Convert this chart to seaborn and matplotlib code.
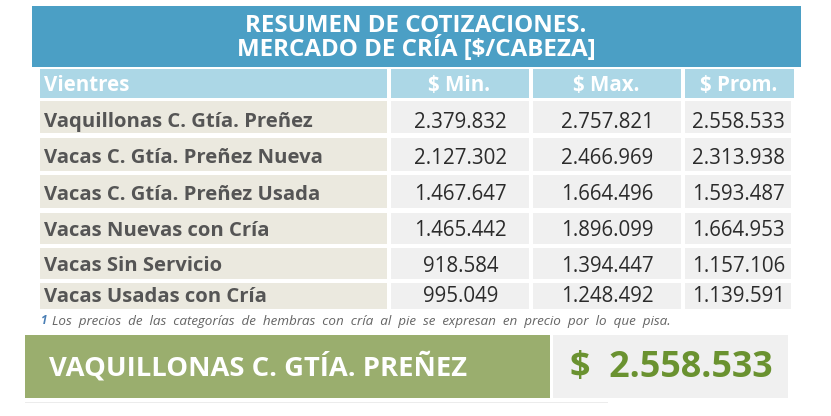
import matplotlib
matplotlib.use("Agg")
import matplotlib.pyplot as plt
import matplotlib.font_manager as fm
from matplotlib.patches import Rectangle
import seaborn as sns

titulo = ["RESUMEN DE COTIZACIONES.", "MERCADO DE CRÍA [$/CABEZA]"]
columnas = ["Vientres", "$ Min.", "$ Max.", "$ Prom."]
categorias = ["Vaquillonas C. Gtía. Preñez", "Vacas C. Gtía. Preñez Nueva",
              "Vacas C. Gtía. Preñez Usada", "Vacas Nuevas con Cría",
              "Vacas Sin Servicio", "Vacas Usadas con Cría"]
minimos = ["2.379.832", "2.127.302", "1.467.647", "1.465.442", "918.584", "995.049"]
maximos = ["2.757.821", "2.466.969", "1.664.496", "1.896.099", "1.394.447", "1.248.492"]
promedios = ["2.558.533", "2.313.938", "1.593.487", "1.664.953", "1.157.106", "1.139.591"]
nota_num = "1"
nota = "Los precios de las categorías de hembras con cría al pie se expresan en precio por lo que pisa."
destacado = "VAQUILLONAS C. GTÍA. PREÑEZ"
destacado_valor = "$  2.558.533"

sns.set_theme(style="white")
plt.rcParams['font.family'] = ['Open Sans', 'DejaVu Sans']

def font(fname, size):
    for f in fm.fontManager.ttflist:
        if f.fname.endswith("/" + fname):
            return fm.FontProperties(fname=f.fname, size=size)
    return fm.FontProperties(family="Open Sans", size=size)

fig = plt.figure(figsize=(8.31, 4.16), dpi=100)
ax = fig.add_axes([0, 0, 1, 1])
ax.set_xlim(0, 831)
ax.set_ylim(416, 0)
ax.axis("off")

def box(x0, x1, y0, y1, c):
    ax.add_patch(Rectangle((x0, y0), x1 - x0, y1 - y0, facecolor=c, edgecolor="none", zorder=1))

def label(x, y, s, c, fp, ha="left"):
    ax.text(x, y, s, ha=ha, va="baseline", color=c, fontproperties=fp, zorder=3)

BOLD, REG, ITAL = "OpenSans-Bold.ttf", "OpenSans-Regular.ttf", "OpenSans-Italic.ttf"
BLUE, LBLUE, BEIGE, GRAY, GREEN = "#4b9fc5", "#acd7e6", "#ebe9df", "#f0f0f0", "#9aae6e"
DARK, NUM = "#555555", "#2b2b2b"

box(32, 801, 6, 67, BLUE)
label(416, 32, titulo[0], "white", font(BOLD, 17.4), "center")
label(416, 56, titulo[1], "white", font(BOLD, 17.4), "center")

head_x = [(40, 387), (391, 529), (533, 681), (685, 794)]
cell_x = [(40, 387), (391, 529), (533, 681), (685, 791)]
row_y = [(101, 133), (138, 171), (175, 208), (213, 244), (248, 279), (283, 309)]
baselines = [127, 163, 200, 236, 271, 302]

for i, (lab, (x0, x1)) in enumerate(zip(columnas, head_x)):
    box(x0, x1, 69, 98, LBLUE)
    if i == 0:
        label(44, 91, lab, "white", font(BOLD, 14.8))
    else:
        label((x0 + x1) / 2 - 0.5, 91, lab, "white", font(BOLD, 14.8), "center")

for r, (y0, y1) in enumerate(row_y):
    for c, (x0, x1) in enumerate(cell_x):
        box(x0, x1, y0, y1, BEIGE if c == 0 else GRAY)
    label(44.5, baselines[r], categorias[r], DARK, font(BOLD, 14.6))
    for c, vals in zip((1, 2, 3), (minimos, maximos, promedios)):
        xm = (cell_x[c][0] + cell_x[c][1]) / 2
        label(xm + 0.5, baselines[r] + 0.5, vals[r], NUM, font(REG, 14.8), "center")

label(41, 324.5, nota_num, "#4a7fb5", font("OpenSans-BoldItalic.ttf", 8.4))
label(52, 324.5, nota.replace(" ", "  "), "#666666", font(ITAL, 9.7))

box(25, 550, 335, 398, GREEN)
box(553, 788, 335, 398, GRAY)
box(25, 608, 402, 403, "#ececec")
label(49, 375.7, destacado, "white", font(BOLD, 19.7))
label(570, 377.3, destacado_valor, "#6a9230", font(BOLD, 25.8))

fig.savefig("out.png", dpi=100)
